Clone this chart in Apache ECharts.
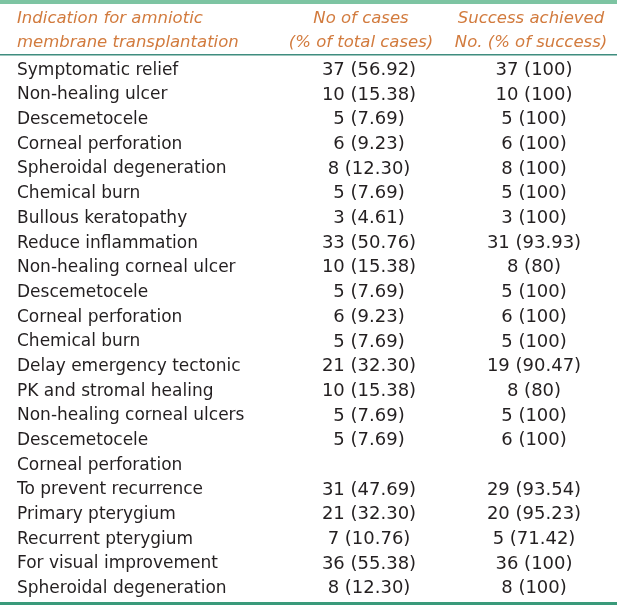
<!DOCTYPE html>
<html><head><meta charset="utf-8">
<script src="https://cdn.jsdelivr.net/npm/echarts@6/dist/echarts.min.js"></script>
<style>html,body{margin:0;padding:0;background:#fff}#c{width:617px;height:605px}</style>
</head><body><div id="c"></div>
<script>
const headerCol1 = ["Indication for amniotic", "membrane transplantation"];
const headerCol2 = ["No of cases", "(% of total cases)"];
const headerCol3 = ["Success achieved", "No. (% of success)"];
const indications = ["Symptomatic relief","Non-healing ulcer","Descemetocele","Corneal perforation","Spheroidal degeneration","Chemical burn","Bullous keratopathy","Reduce inflammation","Non-healing corneal ulcer","Descemetocele","Corneal perforation","Chemical burn","Delay emergency tectonic","PK and stromal healing","Non-healing corneal ulcers","Descemetocele","Corneal perforation","To prevent recurrence","Primary pterygium","Recurrent pterygium","For visual improvement","Spheroidal degeneration"];
const cases = ["37 (56.92)","10 (15.38)","5 (7.69)","6 (9.23)","8 (12.30)","5 (7.69)","3 (4.61)","33 (50.76)","10 (15.38)","5 (7.69)","6 (9.23)","5 (7.69)","21 (32.30)","10 (15.38)","5 (7.69)","5 (7.69)","","31 (47.69)","21 (32.30)","7 (10.76)","36 (55.38)","8 (12.30)"];
const success = ["37 (100)","10 (100)","5 (100)","6 (100)","8 (100)","5 (100)","3 (100)","31 (93.93)","8 (80)","5 (100)","6 (100)","5 (100)","19 (90.47)","8 (80)","5 (100)","6 (100)","","29 (93.54)","20 (95.23)","5 (71.42)","36 (100)","8 (100)"];

const W = 617;
const colPos = [17, 369, 534];
const FONT = "DejaVu Sans";
const TXT = "#231f20";
const HEAD = "#d27b3e";

const chart = echarts.init(document.getElementById('c'), null, {renderer:'canvas'});
const rowIdx = indications.map((_, i) => String(i));
function col(texts, x, align, size) {
  return {
    type: 'scatter', symbolSize: 0, silent: true,
    itemStyle: {opacity: 1},
    data: texts.map((t, i) => ({value: [x, String(i)], name: t})),
    label: {show: true, position: 'inside', align: align, verticalAlign: 'middle',
      formatter: p => p.name, color: TXT, fontFamily: FONT, fontSize: size,
      opacity: 1, textBorderWidth: 0, textShadowBlur: 0}
  };
}
chart.setOption({
  animation: false,
  grid: {left: 0, right: 0, top: 58, bottom: 4},
  xAxis: {type: 'value', min: 0, max: W, show: false},
  yAxis: {type: 'category', data: rowIdx, inverse: true, show: false},
  series: [col(indications, colPos[0], 'left', 17), col(cases, colPos[1], 'center', 18), col(success, colPos[2], 'center', 18)],
  graphic: [
    {type: 'rect', shape: {x: 0, y: 0, width: W, height: 4}, style: {fill: '#7dc4a2'}},
    {type: 'rect', shape: {x: 0, y: 54, width: W, height: 1.5}, style: {fill: '#3f8d7f'}},
    {type: 'rect', shape: {x: 0, y: 602, width: W, height: 3}, style: {fill: '#3a9a7a'}},
    {type: 'text', left: 17, top: 7, style: {text: headerCol1.join('\n'), fill: HEAD, font: 'italic 16.5px ' + FONT, lineHeight: 24}},
    {type: 'text', x: 361, y: 7, style: {text: headerCol2.join('\n'), fill: HEAD, font: 'italic 16.5px ' + FONT, lineHeight: 24, align: 'center'}},
    {type: 'text', x: 531, y: 7, style: {text: headerCol3.join('\n'), fill: HEAD, font: 'italic 16.5px ' + FONT, lineHeight: 24, align: 'center'}}
  ]
});
</script></body></html>
